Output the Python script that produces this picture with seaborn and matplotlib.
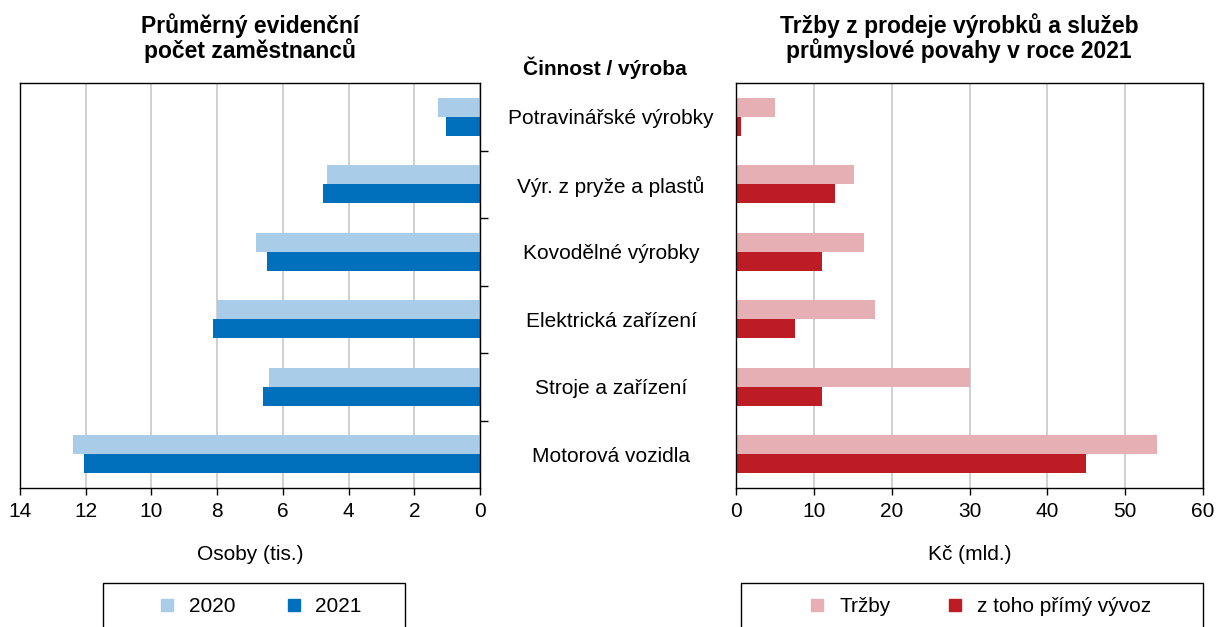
import pandas as pd
import matplotlib.pyplot as plt
import seaborn as sns
from matplotlib.lines import Line2D
from matplotlib.patches import Rectangle

# data
categories = ['Potravinářské výrobky', 'Výr. z pryže a plastů', 'Kovodělné výrobky',
              'Elektrická zařízení', 'Stroje a zařízení', 'Motorová vozidla']
staff_2020 = [1.27, 4.66, 6.81, 8.00, 6.43, 12.39]
staff_2021 = [1.04, 4.77, 6.48, 8.13, 6.60, 12.04]
sales = [5.0, 15.2, 16.5, 17.9, 30.0, 54.1]
export = [0.6, 12.7, 11.0, 7.6, 11.0, 45.0]

c2020, c2021 = '#A9CDE8', '#0070BD'
c_sales, c_exp = '#E6AFB3', '#BE1C24'

sns.set_theme(style='white')
plt.rcParams['font.family'] = ['Liberation Sans', 'DejaVu Sans']
plt.rcParams['text.color'] = 'black'
plt.rcParams['axes.labelcolor'] = 'black'
plt.rcParams['xtick.color'] = 'black'
plt.rcParams['ytick.color'] = 'black'

left_df = pd.DataFrame({'cat': categories * 2,
                        'val': staff_2020 + staff_2021,
                        'rok': ['2020'] * 6 + ['2021'] * 6})
right_df = pd.DataFrame({'cat': categories * 2,
                         'val': sales + export,
                         'typ': ['Tržby'] * 6 + ['z toho přímý vývoz'] * 6})

W, H = 1216, 627
fig = plt.figure(figsize=(W / 100, H / 100), dpi=100)
axl = fig.add_axes([20 / W, 1 - 488 / H, 460 / W, 405 / H])
axr = fig.add_axes([736 / W, 1 - 488 / H, 467 / W, 405 / H])

sns.barplot(data=left_df, y='cat', x='val', hue='rok', orient='h', order=categories,
            palette=[c2020, c2021], width=0.56, ax=axl, legend=False, saturation=1,
            linewidth=0)
sns.barplot(data=right_df, y='cat', x='val', hue='typ', orient='h', order=categories,
            palette=[c_sales, c_exp], width=0.56, ax=axr, legend=False, saturation=1,
            linewidth=0)

fs = 15
for ax in (axl, axr):
    ax.set_ylim(5.5, -0.5)
    ax.set_ylabel('')
    ax.set_axisbelow(True)
    ax.grid(axis='x', color='#c8c8c8', linewidth=1.2)
    for s in ax.spines.values():
        s.set_color('black')
        s.set_linewidth(1.0)
    ax.tick_params(axis='x', which='major', direction='out', length=5, width=1,
                   labelsize=fs, pad=5, bottom=True)
    ax.set_yticks([i + 0.5 for i in range(5)], minor=True)
    ax.tick_params(axis='y', which='minor', direction='out', length=6, width=1)

axl.set_xlim(14, 0)
axl.set_xticks(range(0, 15, 2))
axl.yaxis.tick_right()
axl.set_yticks([])
axl.set_yticks([i + 0.5 for i in range(5)], minor=True)
axl.tick_params(axis='y', which='minor', right=True, left=False, direction='out', length=6)
axl.set_xlabel('Osoby (tis.)', fontsize=fs, labelpad=17)

axr.set_xlim(0, 60)
axr.set_xticks(range(0, 61, 10))
axr.set_yticks(range(6))
axr.set_yticklabels(categories, ha='center')
axr.tick_params(axis='y', which='major', length=0, labelsize=fs, pad=90)
axr.set_xlabel('Kč (mld.)', fontsize=fs, labelpad=17)

fig.text(250 / W, 1 - 38 / H, 'Průměrný evidenční\npočet zaměstnanců', ha='center', va='center',
         fontsize=16.5, fontweight='bold', linespacing=1.05)
fig.text(959 / W, 1 - 38 / H, 'Tržby z prodeje výrobků a služeb\nprůmyslové povahy v roce 2021',
         ha='center', va='center', fontsize=16.5, fontweight='bold', linespacing=1.05)
fig.text(605 / W, 1 - 68 / H, 'Činnost / výroba', ha='center', va='center',
         fontsize=fs, fontweight='bold')

# legend boxes (cut off at the bottom edge, as in the reference)
for x0, x1 in [(103, 405), (741, 1203)]:
    fig.patches.append(Rectangle((x0 / W, -0.05), (x1 - x0) / W, (1 - 583 / H) + 0.05,
                                 transform=fig.transFigure, fill=False,
                                 edgecolor='black', linewidth=1.0))

def sq(c):
    return Line2D([], [], marker='s', linestyle='none', markersize=9, color=c)

fig.legend([sq(c2020), sq(c2021)], ['2020', '2021'], loc='center',
           bbox_to_anchor=(256 / W, 1 - 607 / H), ncol=2, frameon=False, fontsize=fs,
           handletextpad=0.25, handlelength=1.6, columnspacing=2.0)
fig.legend([sq(c_sales), sq(c_exp)], ['Tržby', 'z toho přímý vývoz'], loc='center',
           bbox_to_anchor=(976 / W, 1 - 607 / H), ncol=2, frameon=False, fontsize=fs,
           handletextpad=0.25, handlelength=1.6, columnspacing=2.3)

fig.savefig('out.png', dpi=100)
